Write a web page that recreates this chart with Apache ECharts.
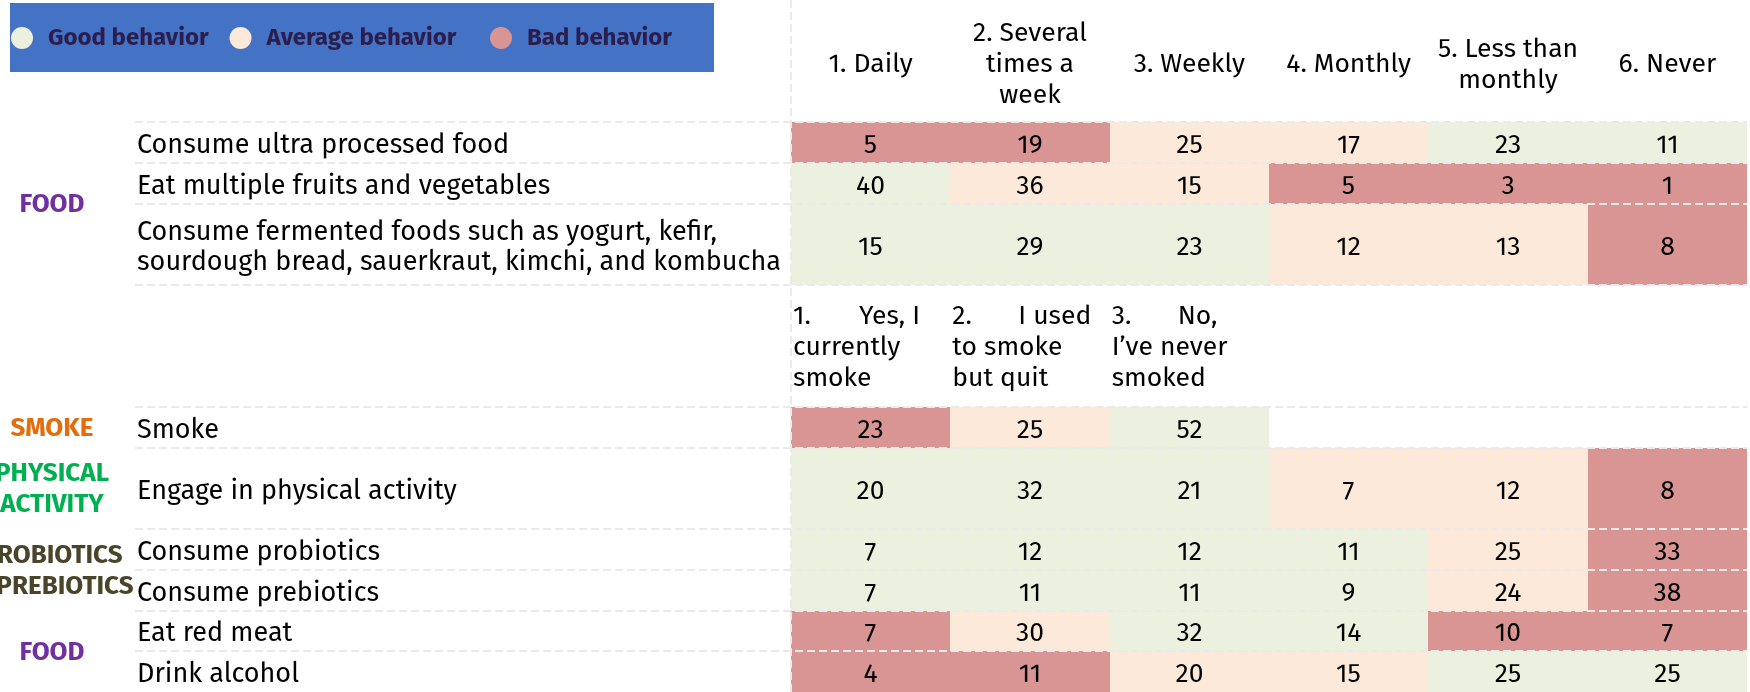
<!DOCTYPE html>
<html>
<head>
<meta charset="utf-8">
<title>Gut health behaviours</title>
<script src="https://cdn.jsdelivr.net/npm/echarts@6/dist/echarts.min.js"></script>
<style>
  html, body { margin: 0; padding: 0; background: #fff; }
  #main { width: 1750px; height: 692px; }
</style>
</head>
<body>
<div id="main"></div>
<script>
// answers of the frequency questions and of the smoking question
var freqLabels = ['1. Daily', '2. Several\ntimes a\nweek', '3. Weekly', '4. Monthly', '5. Less than\nmonthly', '6. Never'];
var smokeLabels = [['1.', 'Yes, I\ncurrently\nsmoke'], ['2.', 'I used\nto smoke\nbut quit'], ['3.', 'No,\nI’ve never\nsmoked']];

var behaviours = [
    'Consume ultra processed food',
    'Eat multiple fruits and vegetables',
    'Consume fermented foods such as yogurt, kefir,\nsourdough bread, sauerkraut, kimchi, and kombucha',
    'Smoke',
    'Engage in physical activity',
    'Consume probiotics',
    'Consume prebiotics',
    'Eat red meat',
    'Drink alcohol'
];
var values = [
    [5, 19, 25, 17, 23, 11],
    [40, 36, 15, 5, 3, 1],
    [15, 29, 23, 12, 13, 8],
    [23, 25, 52],
    [20, 32, 21, 7, 12, 8],
    [7, 12, 12, 11, 25, 33],
    [7, 11, 11, 9, 24, 38],
    [7, 30, 32, 14, 10, 7],
    [4, 11, 20, 15, 25, 25]
];
// 0 = good, 1 = average, 2 = bad
var levels = [
    [2, 2, 1, 1, 0, 0],
    [0, 1, 1, 2, 2, 2],
    [0, 0, 0, 1, 1, 2],
    [2, 1, 0],
    [0, 0, 0, 1, 1, 2],
    [0, 0, 0, 0, 1, 2],
    [0, 0, 0, 0, 1, 2],
    [2, 1, 0, 0, 2, 2],
    [2, 2, 1, 1, 0, 0]
];
var levelNames = ['Good behavior', 'Average behavior', 'Bad behavior'];
var groups = ['FOOD', 'SMOKE', 'PHYSICAL\nACTIVITY', 'PROBIOTICS\nPREBIOTICS', 'FOOD'];
var groupRows = [[0, 2], [3, 3], [4, 4], [5, 6], [7, 8]];

// layout, in row units (y axis runs 0..17 from the top)
var rowTop = [3, 4, 5, 10, 11, 13, 14, 15, 16];
var rowSpan = [1, 1, 2, 1, 2, 1, 1, 1, 1];
var freqHeaderTop = 0;
var smokeHeaderTop = 7;
var headerSpan = 3;
var ruleRows = [3, 4, 5, 7, 10, 11, 13, 14, 15, 16];
var labelX = 137;
var ruleX = 135;
var groupX = 52;
var groupLineShift = [[0], [0], [0, 0], [0, 13], [0, 0]];
var textDy = 3;

var levelColors = ['#EBF1DE', '#FDE9D9', '#D99594'];
var groupColors = ['#7030A0', '#E46C0A', '#00B050', '#4A452A', '#7030A0'];
var font = "'Fira Sans', 'Open Sans', sans-serif";
var ruleColor = '#EAEAEA';

var chart = echarts.init(document.getElementById('main'));

// cells of one behaviour level
function cellData(level) {
    var out = [];
    values.forEach(function (row, r) {
        row.forEach(function (v, c) {
            if (levels[r][c] === level) out.push([c, rowTop[r], v, rowSpan[r]]);
        });
    });
    return out;
}

function renderCell(params, api) {
    var c = api.value(0), top = api.value(1), span = api.value(3);
    var p0 = api.coord([c, top]);
    var p1 = api.coord([c + 1, top + span]);
    var x0 = Math.round(p0[0]), y0 = Math.round(p0[1]);
    var x1 = Math.round(p1[0]), y1 = Math.round(p1[1]);
    return {
        type: 'group',
        children: [{
            type: 'rect',
            shape: { x: x0, y: y0, width: x1 - x0, height: y1 - y0 },
            style: { fill: api.visual('color') }
        }, {
            type: 'text',
            z2: 10,
            x: (x0 + x1) / 2,
            y: (y0 + y1) / 2 + textDy,
            style: {
                text: String(api.value(2)), fill: '#000', font: '26.5px ' + font,
                align: 'center', verticalAlign: 'middle'
            }
        }]
    };
}

function renderRule(params, api) {
    var dash = { stroke: ruleColor, lineWidth: 2, lineDash: [8, 4] };
    if (api.value(0) === 0) {
        var y = Math.round(api.coord([0, api.value(1)])[1]);
        var xr = api.coord([6, 0])[0];
        return { type: 'line', shape: { x1: ruleX, y1: y, x2: xr, y2: y }, style: dash };
    }
    var top = api.coord([0, 0]), bottom = api.coord([0, 17]);
    var x = Math.round(top[0]);
    return { type: 'line', shape: { x1: x, y1: top[1], x2: x, y2: bottom[1] }, style: dash };
}

function renderRowLabel(params, api) {
    var r = api.value(2);
    var p = api.coord([0, api.value(1)]);
    return {
        type: 'text',
        x: labelX,
        y: p[1] + textDy,
        style: {
            text: behaviours[r], fill: '#000', font: '27px ' + font,
            lineHeight: 30, align: 'left', verticalAlign: 'middle'
        }
    };
}

function renderGroup(params, api) {
    var g = api.value(2);
    var p = api.coord([0, api.value(1)]);
    var lines = groups[g].split('\n');
    var lh = 31;
    return {
        type: 'group',
        children: lines.map(function (t, i) {
            return {
                type: 'text',
                x: groupX + groupLineShift[g][i],
                y: p[1] + (i - (lines.length - 1) / 2) * lh + 1,
                style: {
                    text: t, fill: groupColors[g], font: 'bold 26px ' + font,
                    align: 'center', verticalAlign: 'middle'
                }
            };
        })
    };
}

function renderFreqHeader(params, api) {
    var c = api.value(0);
    var p = api.coord([c + 0.5, api.value(1)]);
    return {
        type: 'text',
        x: p[0],
        y: p[1] + textDy + 1,
        style: {
            text: freqLabels[c], fill: '#000', font: '26.5px ' + font,
            lineHeight: 31, align: 'center', verticalAlign: 'middle'
        }
    };
}

function renderSmokeHeader(params, api) {
    var c = api.value(0);
    var p = api.coord([c, api.value(1)]);
    var lines = smokeLabels[c][1].split('\n');
    var txt = lines.map(function (l, i) {
        return (i === 0 ? '{n|' + smokeLabels[c][0] + '}' : '') + '{t|' + l + '}';
    }).join('\n');
    return {
        type: 'text',
        x: p[0] + 2,
        y: p[1] + textDy - 1,
        style: {
            text: txt, fill: '#000', font: '26.5px ' + font,
            align: 'left', verticalAlign: 'middle',
            rich: {
                n: { width: 66, lineHeight: 31, font: '26.5px ' + font },
                t: { lineHeight: 31, font: '26.5px ' + font }
            }
        }
    };
}

var series = levelNames.map(function (name, k) {
    return {
        name: name,
        type: 'custom',
        renderItem: renderCell,
        itemStyle: { color: levelColors[k] },
        data: cellData(k),
        z: 2
    };
});

series.push({
    name: 'rules', type: 'custom', renderItem: renderRule, z: 5, silent: true,
    data: ruleRows.map(function (y) { return [0, y]; }).concat([[1, 0]])
});
series.push({
    name: 'rows', type: 'custom', renderItem: renderRowLabel, z: 6, silent: true,
    data: behaviours.map(function (b, r) { return [0, rowTop[r] + rowSpan[r] / 2, r]; })
});
series.push({
    name: 'groups', type: 'custom', renderItem: renderGroup, z: 6, silent: true,
    data: groupRows.map(function (gr, g) {
        var top = rowTop[gr[0]], bottom = rowTop[gr[1]] + rowSpan[gr[1]];
        return [0, (top + bottom) / 2, g];
    })
});
series.push({
    name: 'freqHeader', type: 'custom', renderItem: renderFreqHeader, z: 6, silent: true,
    data: freqLabels.map(function (l, c) { return [c, freqHeaderTop + headerSpan / 2]; })
});
series.push({
    name: 'smokeHeader', type: 'custom', renderItem: renderSmokeHeader, z: 6, silent: true,
    data: smokeLabels.map(function (l, c) { return [c, smokeHeaderTop + headerSpan / 2]; })
});

// legend split in two so the last entry sits where the original has it
function legendPart(names, left) {
    return {
        data: names,
        left: left,
        top: 26,
        padding: 0,
        icon: 'circle',
        itemWidth: 22,
        itemHeight: 22,
        itemGap: 21,
        z: 10,
        selectedMode: false,
        textStyle: {
            color: '#2B1E4E', fontSize: 24, fontWeight: 'bold',
            fontFamily: font, padding: [0, 0, 0, 10]
        }
    };
}

chart.setOption({
    animation: false,
    graphic: [{
        type: 'rect', z: 0,
        shape: { x: 10, y: 3, width: 704, height: 69 },
        style: { fill: '#4472C4' }
    }],
    legend: [
        legendPart(levelNames.slice(0, 2), 11),
        legendPart(levelNames.slice(2), 490)
    ],
    grid: { left: 791, right: 3, top: 0, bottom: 0 },
    xAxis: { type: 'value', min: 0, max: 6, show: false },
    yAxis: { type: 'value', min: 0, max: 17, inverse: true, show: false },
    series: series
});
</script>
</body>
</html>
